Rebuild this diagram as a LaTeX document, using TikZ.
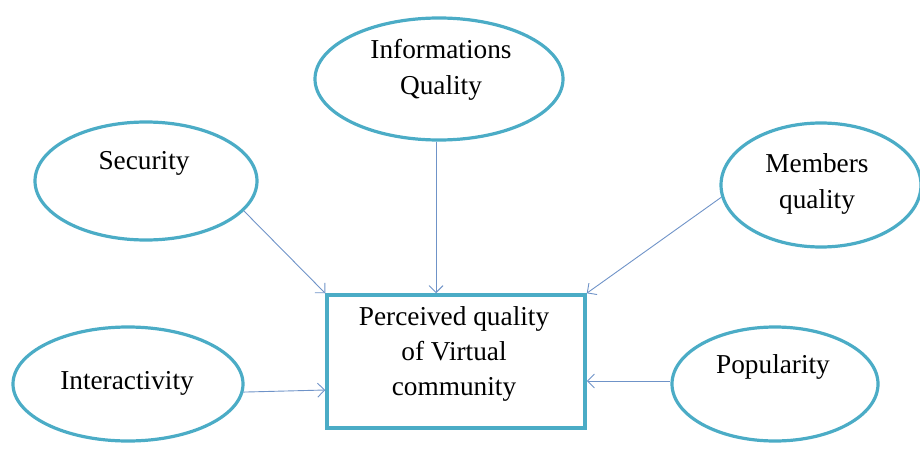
\documentclass[tikz,border=0pt]{standalone}
\usepackage{fontspec}
\setmainfont{Liberation Serif}
\usetikzlibrary{shapes.geometric,arrows.meta}
\definecolor{ringc}{HTML}{4BACC6}
\definecolor{arrc}{HTML}{6F93C8}
\tikzset{
  oval/.style={ellipse,draw=ringc,line width=3.2pt,inner sep=0pt},
  txt/.style={align=center,inner sep=0pt,font=\fontsize{27.3}{36}\selectfont},
  conn/.style={draw=arrc,line width=0.9pt,-{Straight Barb[length=7pt,width=14pt,line width=0.9pt]}},
}
\begin{document}
\begin{tikzpicture}[x=1pt,y=-1pt]
\useasboundingbox (0,0) rectangle (920,460);
\node[oval,minimum width=248pt,minimum height=122pt] (info) at (439,79) {};
\node[oval,minimum width=222pt,minimum height=118pt] (sec) at (146,181) {};
\node[oval,minimum width=200pt,minimum height=124pt] (mem) at (821,185) {};
\node[oval,minimum width=206pt,minimum height=114pt] (pop) at (775,384) {};
\node[oval,minimum width=230pt,minimum height=114pt] (inter) at (128,384) {};
\node[draw=ringc,line width=3.5pt,minimum width=258pt,minimum height=133pt,inner sep=0pt] (rect) at (456,361.5) {};
\node[txt] (infot) at (441,70) {Informations\\Quality};
\node[txt] (sect) at (144,163) {Security};
\node[txt] (memt) at (817,184) {Members\\quality};
\node[txt] (popt) at (773,367) {Popularity};
\node[txt] (intert) at (127,383) {Interactivity};
\node[txt,font=\fontsize{27.3}{35}\selectfont] (rectt) at (454,354) {Perceived quality\\of Virtual\\community};
\draw[conn] (sec.-17.6) -- (rect.north west);
\draw[conn] (info.south -| 436,0) -- (rect.north -| 436,0);
\draw[conn] (mem.187.4) -- (rect.north east);
\draw[conn] (inter.-4) -- (rect.west |- 0,390);
\draw[conn] (pop.west |- 0,381) -- (rect.east |- 0,381);
\end{tikzpicture}
\end{document}
